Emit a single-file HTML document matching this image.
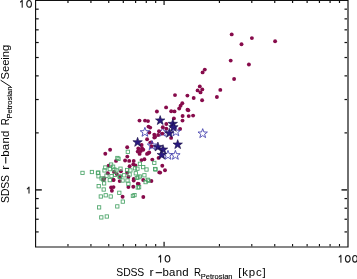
<!DOCTYPE html>
<html><head><meta charset="utf-8"><style>
html,body{margin:0;padding:0;background:#fff;width:357px;height:279px;overflow:hidden}
svg{display:block;will-change:transform}
text{font-family:"Liberation Sans",sans-serif;fill:#000}
</style></head><body>
<svg width="357" height="279" viewBox="0 0 357 279">
<g fill="none" stroke="#4a46b0" stroke-width="0.9" stroke-linejoin="miter"><polygon points="162.60,127.35 163.78,130.68 167.31,130.77 164.51,132.92 165.51,136.30 162.60,134.30 159.69,136.30 160.69,132.92 157.89,130.77 161.42,130.68"/></g>
<g fill="#870b4b"><circle cx="231.7" cy="34.4" r="1.95"/><circle cx="251.9" cy="38.1" r="1.95"/><circle cx="241.5" cy="44.3" r="1.95"/><circle cx="275.1" cy="41.3" r="1.95"/><circle cx="230.7" cy="60.6" r="1.95"/><circle cx="248.9" cy="64.5" r="1.95"/><circle cx="204.8" cy="69.6" r="1.95"/><circle cx="202.6" cy="72.4" r="1.95"/><circle cx="234.1" cy="79.0" r="1.95"/><circle cx="199.8" cy="86.4" r="1.95"/><circle cx="197.6" cy="90.4" r="1.95"/><circle cx="202.3" cy="89.4" r="1.95"/><circle cx="200.5" cy="92.4" r="1.95"/><circle cx="220.3" cy="89.9" r="1.95"/><circle cx="187.4" cy="95.6" r="1.95"/><circle cx="193.7" cy="98.0" r="1.95"/><circle cx="216.9" cy="97.0" r="1.95"/><circle cx="202.1" cy="100.2" r="1.95"/><circle cx="175.0" cy="95.1" r="1.95"/><circle cx="182.3" cy="103.3" r="1.95"/><circle cx="187.5" cy="109.8" r="1.95"/><circle cx="188.3" cy="110.3" r="1.95"/><circle cx="188.7" cy="116.1" r="1.95"/><circle cx="193.1" cy="115.6" r="1.95"/><circle cx="180.6" cy="105.8" r="1.95"/><circle cx="179.2" cy="108.5" r="1.95"/><circle cx="166.1" cy="107.4" r="1.95"/><circle cx="156.9" cy="111.5" r="1.95"/><circle cx="171.2" cy="111.3" r="1.95"/><circle cx="174.5" cy="111.4" r="1.95"/><circle cx="182.6" cy="116.0" r="1.95"/><circle cx="173.9" cy="118.4" r="1.95"/><circle cx="182.5" cy="120.6" r="1.95"/><circle cx="139.5" cy="120.6" r="1.95"/><circle cx="145.0" cy="120.6" r="1.95"/><circle cx="148.0" cy="121.1" r="1.95"/><circle cx="148.5" cy="126.6" r="1.95"/><circle cx="150.2" cy="127.6" r="1.95"/><circle cx="149.3" cy="132.5" r="1.95"/><circle cx="159.0" cy="131.3" r="1.95"/><circle cx="154.3" cy="134.7" r="1.95"/><circle cx="154.3" cy="137.6" r="1.95"/><circle cx="147.1" cy="139.3" r="1.95"/><circle cx="166.3" cy="124.0" r="1.95"/><circle cx="162.8" cy="127.3" r="1.95"/><circle cx="166.3" cy="128.6" r="1.95"/><circle cx="180.1" cy="128.9" r="1.95"/><circle cx="162.3" cy="133.6" r="1.95"/><circle cx="171.1" cy="137.9" r="1.95"/><circle cx="151.3" cy="142.5" r="1.95"/><circle cx="155.1" cy="136.9" r="1.95"/><circle cx="150.3" cy="142.6" r="1.95"/><circle cx="151.6" cy="146.4" r="1.95"/><circle cx="158.1" cy="135.0" r="1.95"/><circle cx="127.2" cy="147.2" r="1.95"/><circle cx="138.3" cy="148.5" r="1.95"/><circle cx="142.0" cy="148.3" r="1.95"/><circle cx="141.6" cy="145.0" r="1.95"/><circle cx="137.7" cy="151.6" r="1.95"/><circle cx="140.8" cy="151.0" r="1.95"/><circle cx="143.3" cy="149.8" r="1.95"/><circle cx="139.6" cy="153.9" r="1.95"/><circle cx="127.3" cy="156.6" r="1.95"/><circle cx="147.0" cy="153.9" r="1.95"/><circle cx="149.2" cy="152.5" r="1.95"/><circle cx="148.1" cy="153.2" r="1.95"/><circle cx="110.1" cy="149.8" r="1.95"/><circle cx="105.3" cy="153.7" r="1.95"/><circle cx="158.6" cy="157.9" r="1.95"/><circle cx="162.3" cy="165.8" r="1.95"/><circle cx="165.0" cy="170.2" r="1.95"/><circle cx="160.2" cy="172.6" r="1.95"/><circle cx="116.0" cy="160.9" r="1.95"/><circle cx="108.6" cy="165.8" r="1.95"/><circle cx="107.8" cy="173.3" r="1.95"/><circle cx="114.0" cy="172.0" r="1.95"/><circle cx="116.8" cy="174.1" r="1.95"/><circle cx="104.1" cy="178.2" r="1.95"/><circle cx="113.5" cy="179.8" r="1.95"/><circle cx="125.1" cy="160.5" r="1.95"/><circle cx="129.2" cy="160.9" r="1.95"/><circle cx="133.7" cy="160.9" r="1.95"/><circle cx="129.6" cy="166.2" r="1.95"/><circle cx="133.3" cy="164.2" r="1.95"/><circle cx="135.4" cy="165.4" r="1.95"/><circle cx="120.9" cy="171.2" r="1.95"/><circle cx="127.1" cy="172.8" r="1.95"/><circle cx="128.4" cy="177.0" r="1.95"/><circle cx="119.7" cy="177.0" r="1.95"/><circle cx="133.7" cy="179.0" r="1.95"/><circle cx="119.7" cy="181.1" r="1.95"/><circle cx="133.7" cy="180.5" r="1.95"/><circle cx="137.8" cy="183.8" r="1.95"/><circle cx="128.4" cy="187.1" r="1.95"/><circle cx="133.3" cy="186.7" r="1.95"/><circle cx="122.6" cy="196.8" r="1.95"/><circle cx="103.7" cy="180.1" r="1.95"/><circle cx="113.5" cy="180.1" r="1.95"/><circle cx="111.1" cy="187.5" r="1.95"/><circle cx="113.5" cy="187.1" r="1.95"/><circle cx="111.9" cy="190.8" r="1.95"/><circle cx="141.5" cy="160.1" r="1.95"/><circle cx="144.4" cy="159.2" r="1.95"/><circle cx="152.3" cy="159.6" r="1.95"/><circle cx="159.3" cy="172.4" r="1.95"/><circle cx="143.2" cy="180.0" r="1.95"/><circle cx="151.4" cy="181.0" r="1.95"/><circle cx="138.7" cy="183.9" r="1.95"/><circle cx="143.3" cy="197.0" r="1.95"/></g>
<g fill="none" stroke="#4aa468" stroke-width="0.85"><rect x="80.85" y="171.25" width="3.3" height="3.3"/><rect x="90.25" y="170.35" width="3.3" height="3.3"/><rect x="96.25" y="171.25" width="3.3" height="3.3"/><rect x="96.85" y="174.65" width="3.3" height="3.3"/><rect x="96.65" y="170.95" width="3.3" height="3.3"/><rect x="103.65" y="165.85" width="3.3" height="3.3"/><rect x="102.85" y="168.75" width="3.3" height="3.3"/><rect x="109.45" y="162.95" width="3.3" height="3.3"/><rect x="111.45" y="165.05" width="3.3" height="3.3"/><rect x="108.15" y="167.45" width="3.3" height="3.3"/><rect x="112.75" y="167.85" width="3.3" height="3.3"/><rect x="104.85" y="174.05" width="3.3" height="3.3"/><rect x="109.85" y="174.45" width="3.3" height="3.3"/><rect x="101.55" y="177.75" width="3.3" height="3.3"/><rect x="113.55" y="173.25" width="3.3" height="3.3"/><rect x="116.85" y="157.15" width="3.3" height="3.3"/><rect x="118.85" y="167.05" width="3.3" height="3.3"/><rect x="114.75" y="168.75" width="3.3" height="3.3"/><rect x="125.45" y="168.35" width="3.3" height="3.3"/><rect x="128.75" y="168.75" width="3.3" height="3.3"/><rect x="133.35" y="166.65" width="3.3" height="3.3"/><rect x="118.05" y="174.85" width="3.3" height="3.3"/><rect x="118.25" y="175.15" width="3.3" height="3.3"/><rect x="122.55" y="173.65" width="3.3" height="3.3"/><rect x="127.95" y="172.85" width="3.3" height="3.3"/><rect x="134.15" y="171.65" width="3.3" height="3.3"/><rect x="136.65" y="175.75" width="3.3" height="3.3"/><rect x="120.95" y="178.85" width="3.3" height="3.3"/><rect x="125.85" y="178.85" width="3.3" height="3.3"/><rect x="126.75" y="182.15" width="3.3" height="3.3"/><rect x="136.15" y="185.85" width="3.3" height="3.3"/><rect x="117.65" y="191.15" width="3.3" height="3.3"/><rect x="131.25" y="194.25" width="3.3" height="3.3"/><rect x="121.15" y="199.95" width="3.3" height="3.3"/><rect x="97.05" y="184.55" width="3.3" height="3.3"/><rect x="102.05" y="187.85" width="3.3" height="3.3"/><rect x="102.45" y="181.75" width="3.3" height="3.3"/><rect x="99.15" y="194.85" width="3.3" height="3.3"/><rect x="104.05" y="193.65" width="3.3" height="3.3"/><rect x="109.05" y="194.85" width="3.3" height="3.3"/><rect x="108.15" y="178.45" width="3.3" height="3.3"/><rect x="99.95" y="176.75" width="3.3" height="3.3"/><rect x="138.25" y="162.15" width="3.3" height="3.3"/><rect x="141.55" y="165.45" width="3.3" height="3.3"/><rect x="144.85" y="167.85" width="3.3" height="3.3"/><rect x="152.65" y="161.25" width="3.3" height="3.3"/><rect x="153.85" y="167.85" width="3.3" height="3.3"/><rect x="153.55" y="167.35" width="3.3" height="3.3"/><rect x="138.25" y="174.85" width="3.3" height="3.3"/><rect x="142.75" y="173.65" width="3.3" height="3.3"/><rect x="146.05" y="178.15" width="3.3" height="3.3"/><rect x="135.75" y="167.05" width="3.3" height="3.3"/><rect x="135.15" y="176.25" width="3.3" height="3.3"/><rect x="143.95" y="180.45" width="3.3" height="3.3"/><rect x="146.75" y="179.05" width="3.3" height="3.3"/><rect x="137.45" y="185.55" width="3.3" height="3.3"/><rect x="132.85" y="193.45" width="3.3" height="3.3"/><rect x="126.15" y="150.15" width="3.3" height="3.3"/><rect x="115.75" y="156.35" width="3.3" height="3.3"/><rect x="97.45" y="205.75" width="3.3" height="3.3"/><rect x="99.65" y="215.75" width="3.3" height="3.3"/><rect x="105.15" y="214.85" width="3.3" height="3.3"/><rect x="115.65" y="204.75" width="3.3" height="3.3"/></g>
<g fill="none" stroke="#4a46b0" stroke-width="0.9" stroke-linejoin="miter"><polygon points="202.70,128.65 203.88,131.98 207.41,132.07 204.61,134.22 205.61,137.60 202.70,135.60 199.79,137.60 200.79,134.22 197.99,132.07 201.52,131.98"/><polygon points="144.90,127.35 146.08,130.68 149.61,130.77 146.81,132.92 147.81,136.30 144.90,134.30 141.99,136.30 142.99,132.92 140.19,130.77 143.72,130.68"/><polygon points="175.90,126.85 177.08,130.18 180.61,130.27 177.81,132.42 178.81,135.80 175.90,133.80 172.99,135.80 173.99,132.42 171.19,130.27 174.72,130.18"/><polygon points="175.40,150.35 176.58,153.68 180.11,153.77 177.31,155.92 178.31,159.30 175.40,157.30 172.49,159.30 173.49,155.92 170.69,153.77 174.22,153.68"/><polygon points="168.00,150.35 169.18,153.68 172.71,153.77 169.91,155.92 170.91,159.30 168.00,157.30 165.09,159.30 166.09,155.92 163.29,153.77 166.82,153.68"/><polygon points="152.00,140.65 153.18,143.98 156.71,144.07 153.91,146.22 154.91,149.60 152.00,147.60 149.09,149.60 150.09,146.22 147.29,144.07 150.82,143.98"/></g>
<g fill="#2a1a80" stroke="#120a40" stroke-width="0.6"><polygon points="160.20,115.55 161.38,118.88 164.91,118.97 162.11,121.12 163.11,124.50 160.20,122.50 157.29,124.50 158.29,121.12 155.49,118.97 159.02,118.88"/><polygon points="172.80,118.95 173.98,122.28 177.51,122.37 174.71,124.52 175.71,127.90 172.80,125.90 169.89,127.90 170.89,124.52 168.09,122.37 171.62,122.28"/><polygon points="173.40,122.35 174.58,125.68 178.11,125.77 175.31,127.92 176.31,131.30 173.40,129.30 170.49,131.30 171.49,127.92 168.69,125.77 172.22,125.68"/><polygon points="169.30,128.35 170.48,131.68 174.01,131.77 171.21,133.92 172.21,137.30 169.30,135.30 166.39,137.30 167.39,133.92 164.59,131.77 168.12,131.68"/><polygon points="177.70,139.65 178.88,142.98 182.41,143.07 179.61,145.22 180.61,148.60 177.70,146.60 174.79,148.60 175.79,145.22 172.99,143.07 176.52,142.98"/><polygon points="137.60,137.35 138.78,140.68 142.31,140.77 139.51,142.92 140.51,146.30 137.60,144.30 134.69,146.30 135.69,142.92 132.89,140.77 136.42,140.68"/><polygon points="157.90,142.05 159.08,145.38 162.61,145.47 159.81,147.62 160.81,151.00 157.90,149.00 154.99,151.00 155.99,147.62 153.19,145.47 156.72,145.38"/><polygon points="163.00,144.65 164.18,147.98 167.71,148.07 164.91,150.22 165.91,153.60 163.00,151.60 160.09,153.60 161.09,150.22 158.29,148.07 161.82,147.98"/><polygon points="161.80,150.05 162.98,153.38 166.51,153.47 163.71,155.62 164.71,159.00 161.80,157.00 158.89,159.00 159.89,155.62 157.09,153.47 160.62,153.38"/></g>
<g fill="#111"><path fill-rule="evenodd" d="M35.0,-1H348.6V247.6H35.0Z M36.15,0.9V246.4H347.4V0.9Z"/><rect x="67.37" y="0" width="1.2" height="3"/><rect x="67.42" y="244.00" width="1.1" height="2.4"/><rect x="90.33" y="0" width="1.2" height="3"/><rect x="90.38" y="244.00" width="1.1" height="2.4"/><rect x="108.15" y="0" width="1.2" height="3"/><rect x="108.20" y="244.00" width="1.1" height="2.4"/><rect x="122.70" y="0" width="1.2" height="3"/><rect x="122.75" y="244.00" width="1.1" height="2.4"/><rect x="135.01" y="0" width="1.2" height="3"/><rect x="135.06" y="244.00" width="1.1" height="2.4"/><rect x="145.67" y="0" width="1.2" height="3"/><rect x="145.72" y="244.00" width="1.1" height="2.4"/><rect x="155.07" y="0" width="1.2" height="3"/><rect x="155.12" y="244.00" width="1.1" height="2.4"/><rect x="218.82" y="0" width="1.2" height="3"/><rect x="218.87" y="244.00" width="1.1" height="2.4"/><rect x="251.19" y="0" width="1.2" height="3"/><rect x="251.24" y="244.00" width="1.1" height="2.4"/><rect x="274.15" y="0" width="1.2" height="3"/><rect x="274.20" y="244.00" width="1.1" height="2.4"/><rect x="291.97" y="0" width="1.2" height="3"/><rect x="292.02" y="244.00" width="1.1" height="2.4"/><rect x="306.52" y="0" width="1.2" height="3"/><rect x="306.57" y="244.00" width="1.1" height="2.4"/><rect x="318.83" y="0" width="1.2" height="3"/><rect x="318.88" y="244.00" width="1.1" height="2.4"/><rect x="329.49" y="0" width="1.2" height="3"/><rect x="329.54" y="244.00" width="1.1" height="2.4"/><rect x="338.89" y="0" width="1.2" height="3"/><rect x="338.94" y="244.00" width="1.1" height="2.4"/><rect x="163.48" y="0" width="1.2" height="5"/><rect x="163.48" y="241.80" width="1.2" height="4.6"/><rect x="36" y="231.32" width="2.7" height="1.2"/><rect x="344.50" y="231.32" width="2.5" height="1.2"/><rect x="36" y="218.64" width="2.7" height="1.2"/><rect x="344.50" y="218.64" width="2.5" height="1.2"/><rect x="36" y="207.65" width="2.7" height="1.2"/><rect x="344.50" y="207.65" width="2.5" height="1.2"/><rect x="36" y="197.97" width="2.7" height="1.2"/><rect x="344.50" y="197.97" width="2.5" height="1.2"/><rect x="36" y="132.28" width="2.7" height="1.2"/><rect x="344.50" y="132.28" width="2.5" height="1.2"/><rect x="36" y="98.93" width="2.7" height="1.2"/><rect x="344.50" y="98.93" width="2.5" height="1.2"/><rect x="36" y="75.27" width="2.7" height="1.2"/><rect x="344.50" y="75.27" width="2.5" height="1.2"/><rect x="36" y="56.92" width="2.7" height="1.2"/><rect x="344.50" y="56.92" width="2.5" height="1.2"/><rect x="36" y="41.92" width="2.7" height="1.2"/><rect x="344.50" y="41.92" width="2.5" height="1.2"/><rect x="36" y="29.24" width="2.7" height="1.2"/><rect x="344.50" y="29.24" width="2.5" height="1.2"/><rect x="36" y="18.25" width="2.7" height="1.2"/><rect x="344.50" y="18.25" width="2.5" height="1.2"/><rect x="36" y="8.57" width="2.7" height="1.2"/><rect x="344.50" y="8.57" width="2.5" height="1.2"/><rect x="36" y="189.20" width="5.8" height="1.4"/><rect x="341.50" y="189.20" width="5.5" height="1.4"/></g>
<g transform="translate(116.8,276.0)"><text transform="translate(-0.48,0.00) scale(1.000,1)" font-size="10.4" letter-spacing="-0.121">SDSS</text><text x="32.67" y="0.00" font-size="10.4" textLength="4.16" lengthAdjust="spacingAndGlyphs">r</text><text transform="translate(45.61,0.00) scale(1.100,1)" font-size="10.4" letter-spacing="0.237">band</text><text x="77.20" y="0.00" font-size="10.4" textLength="7.06" lengthAdjust="spacingAndGlyphs">R</text><path d="M38.9,-3.35H45.3" stroke="#111" stroke-width="1.1"/><text stroke="#000" stroke-width="0.12" transform="translate(83.98,2.80) scale(1.061,1)" font-size="7.1" letter-spacing="0.000">Petrosian</text><text transform="translate(121.39,0.00) scale(1.100,1)" font-size="10.4" letter-spacing="0.742">[kpc]</text></g>
<g transform="translate(9.1,202.4) rotate(-90)"><text transform="translate(-0.48,0.00) scale(1.000,1)" font-size="10.4" letter-spacing="-0.121">SDSS</text><text x="32.67" y="0.00" font-size="10.4" textLength="4.16" lengthAdjust="spacingAndGlyphs">r</text><text transform="translate(45.61,0.00) scale(1.100,1)" font-size="10.4" letter-spacing="0.237">band</text><text x="77.20" y="0.00" font-size="10.4" textLength="7.06" lengthAdjust="spacingAndGlyphs">R</text><path d="M38.9,-3.35H45.3" stroke="#111" stroke-width="1.1"/><text stroke="#000" stroke-width="0.12" transform="translate(83.98,2.80) scale(1.061,1)" font-size="7.1" letter-spacing="0.000">Petrosian</text><text transform="translate(122.89,0.00) scale(1.075,1)" font-size="10.4" letter-spacing="-0.000">Seeing</text><path d="M115.6,1.8L122.2,-8.5" stroke="#111" stroke-width="1.0"/></g>
<path d="M160.60,255.40V262.10M158.90,257.00L160.60,255.40M165.15,258.80a2.35,3.2500000000000115 0 1,0 4.7,0a2.35,3.2500000000000115 0 1,0 -4.7,0zM340.90,255.30V262.20M339.20,256.90L340.90,255.30M345.45,258.80a2.35,3.3499999999999917 0 1,0 4.7,0a2.35,3.3499999999999917 0 1,0 -4.7,0zM352.65,258.80a2.35,3.3499999999999917 0 1,0 4.7,0a2.35,3.3499999999999917 0 1,0 -4.7,0zM22.20,0.40V7.30M20.50,2.00L22.20,0.40M26.75,3.90a2.35,3.3499999999999996 0 1,0 4.7,0a2.35,3.3499999999999996 0 1,0 -4.7,0zM29.00,187.20V193.10M27.30,188.80L29.00,187.20" fill="none" stroke="#1a1a1a" stroke-width="1.1" stroke-linecap="round"/>
</svg></body></html>
